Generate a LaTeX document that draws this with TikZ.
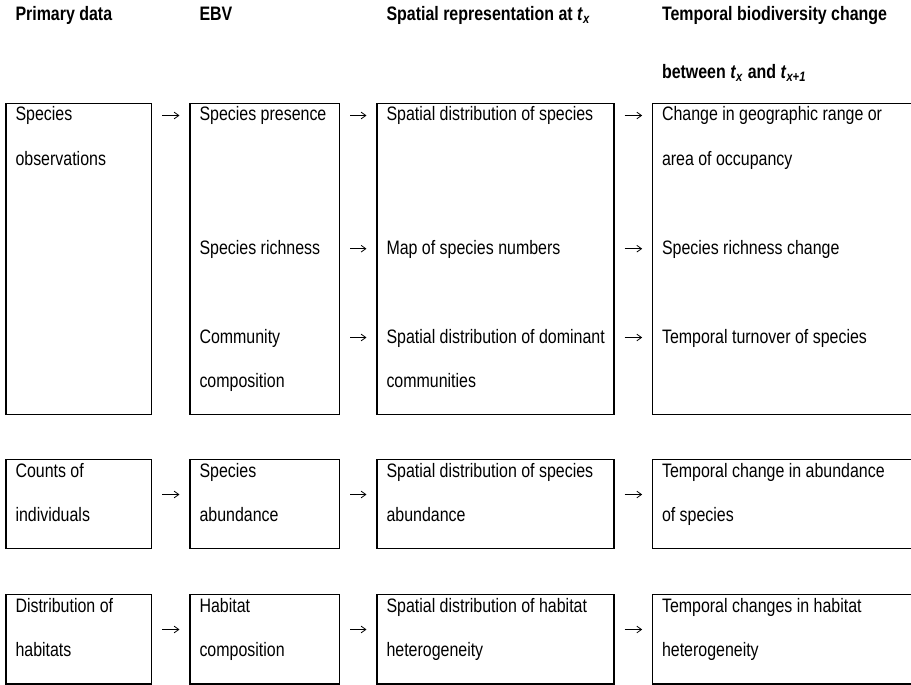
\documentclass[tikz,border=0pt]{standalone}
\usepackage{fontspec}
\setmainfont{Liberation Sans}[FakeStretch=0.82]
\usetikzlibrary{fit,arrows.meta}
\tikzset{
  cell/.style={draw=black, line width=0.8pt, inner sep=0pt, rectangle},
  txt/.style={anchor=base west, inner sep=0pt, outer sep=0pt, text=black,
              font=\fontsize{14.6pt}{17pt}\selectfont},
  head/.style={txt, font=\fontsize{14.6pt}{17pt}\selectfont\bfseries},
  arr/.style={-{Straight Barb[length=3.5pt,width=5pt]}, line width=0.6pt,
              shorten <=7.5pt, shorten >=7.5pt},
}
\newcommand{\tsub}[1]{\textit{t}\textsubscript{\textit{#1}}}
\begin{document}
\begin{tikzpicture}[x=0.75pt,y=-0.75pt]
\useasboundingbox (0,0) rectangle (911,685);
% headers
\node[head] (h1) at (15.5,21) {Primary data};
\node[head] (h2) at (199.5,21) {EBV};
\node[head] (h3) at (386.5,21) {Spatial representation at \tsub{x}};
\node[head] (h4) at (662,21) {Temporal biodiversity change};
\node[head] (h4b) at (662,79) {between \tsub{x} and \tsub{x+1}};
% boxes row 1
\node[cell, fit={(6,103.5) (151.5,414.4)}] (b11) {};
\node[cell, fit={(190,103.5) (339.5,414.4)}] (b12) {};
\node[cell, fit={(377,103.5) (614,414.4)}] (b13) {};
\node[cell, fit={(652.7,103.5) (916,414.4)}] (b14) {};
% boxes row 2
\node[cell, fit={(6,459.5) (151.5,548.6)}] (b21) {};
\node[cell, fit={(190,459.5) (339.5,548.6)}] (b22) {};
\node[cell, fit={(377,459.5) (614,548.6)}] (b23) {};
\node[cell, fit={(652.7,459.5) (916,548.6)}] (b24) {};
% boxes row 3
\node[cell, fit={(6,594.5) (151.5,684)}] (b31) {};
\node[cell, fit={(190,594.5) (339.5,684)}] (b32) {};
\node[cell, fit={(377,594.5) (614,684)}] (b33) {};
\node[cell, fit={(652.7,594.5) (916,684)}] (b34) {};
% texts row 1
\node[txt] (t11a) at (15.5,121) {Species};
\node[txt] (t11b) at (15.5,165.4) {observations};
\node[txt] (t12a) at (199.5,121) {Species presence};
\node[txt] (t12b) at (199.5,254.2) {Species richness};
\node[txt] (t12c) at (199.5,343) {Community};
\node[txt] (t12d) at (199.5,387.4) {composition};
\node[txt] (t13a) at (386.5,121) {Spatial distribution of species};
\node[txt] (t13b) at (386.5,254.2) {Map of species numbers};
\node[txt] (t13c) at (386.5,343) {Spatial distribution of dominant};
\node[txt] (t13d) at (386.5,387.4) {communities};
\node[txt] (t14a) at (662,121) {Change in geographic range or};
\node[txt] (t14b) at (662,165.4) {area of occupancy};
\node[txt] (t14c) at (662,254.2) {Species richness change};
\node[txt] (t14d) at (662,343) {Temporal turnover of species};
% texts row 2
\node[txt] (t21a) at (15.5,477) {Counts of};
\node[txt] (t21b) at (15.5,521.4) {individuals};
\node[txt] (t22a) at (199.5,477) {Species};
\node[txt] (t22b) at (199.5,521.4) {abundance};
\node[txt] (t23a) at (386.5,477) {Spatial distribution of species};
\node[txt] (t23b) at (386.5,521.4) {abundance};
\node[txt] (t24a) at (662,477) {Temporal change in abundance};
\node[txt] (t24b) at (662,521.4) {of species};
% texts row 3
\node[txt] (t31a) at (15.5,612) {Distribution of};
\node[txt] (t31b) at (15.5,656.4) {habitats};
\node[txt] (t32a) at (199.5,612) {Habitat};
\node[txt] (t32b) at (199.5,656.4) {composition};
\node[txt] (t33a) at (386.5,612) {Spatial distribution of habitat};
\node[txt] (t33b) at (386.5,656.4) {heterogeneity};
\node[txt] (t34a) at (662,612) {Temporal changes in habitat};
\node[txt] (t34b) at (662,656.4) {heterogeneity};
% arrow levels
\coordinate (ya) at (0,115.5);
\coordinate (yb) at (0,248.7);
\coordinate (yc) at (0,337.5);
\coordinate (yd) at (0,494.5);
\coordinate (ye) at (0,629.5);
% arrows row 1
\draw[arr] (b11.east |- ya) -- (b12.west |- ya);
\draw[arr] (b12.east |- ya) -- (b13.west |- ya);
\draw[arr] (b13.east |- ya) -- (b14.west |- ya);
\draw[arr] (b12.east |- yb) -- (b13.west |- yb);
\draw[arr] (b13.east |- yb) -- (b14.west |- yb);
\draw[arr] (b12.east |- yc) -- (b13.west |- yc);
\draw[arr] (b13.east |- yc) -- (b14.west |- yc);
% arrows row 2
\draw[arr] (b21.east |- yd) -- (b22.west |- yd);
\draw[arr] (b22.east |- yd) -- (b23.west |- yd);
\draw[arr] (b23.east |- yd) -- (b24.west |- yd);
% arrows row 3
\draw[arr] (b31.east |- ye) -- (b32.west |- ye);
\draw[arr] (b32.east |- ye) -- (b33.west |- ye);
\draw[arr] (b33.east |- ye) -- (b34.west |- ye);
\end{tikzpicture}
\end{document}
